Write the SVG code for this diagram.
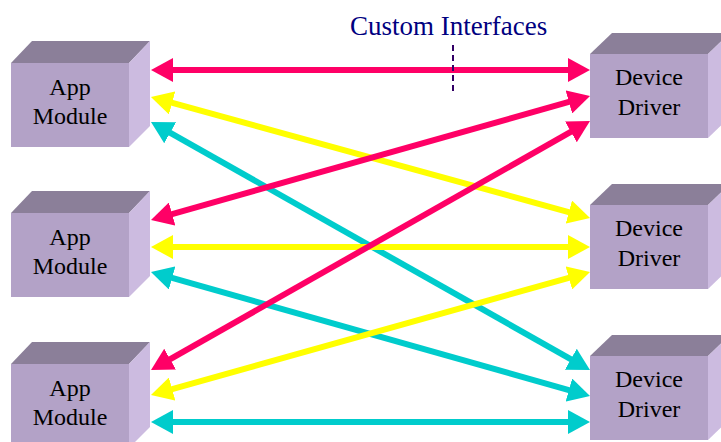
<svg xmlns="http://www.w3.org/2000/svg" width="721" height="442" viewBox="0 0 721 442">
<style>
.front{fill:#B3A2C7}
.top{fill:#8B7F99}
.side{fill:#CCBBE0}
.lbl{font-family:"Liberation Serif","Times New Roman",serif;font-size:24px;fill:#000;text-anchor:middle}
.ln{stroke-width:6;fill:none}
.pk{stroke:#FF0066;marker-start:url(#mp);marker-end:url(#mp)}
.yl{stroke:#FFFF00;marker-start:url(#my);marker-end:url(#my)}
.cy{stroke:#00CCCC;marker-start:url(#mc);marker-end:url(#mc)}
</style>
<defs>
<marker id="mp" markerUnits="userSpaceOnUse" viewBox="0 0 22 24" markerWidth="22" markerHeight="24" refX="12" refY="12" orient="auto-start-reverse"><path d="M0,0 L22,12 L0,24 z" fill="#FF0066"/></marker>
<marker id="my" markerUnits="userSpaceOnUse" viewBox="0 0 22 24" markerWidth="22" markerHeight="24" refX="12" refY="12" orient="auto-start-reverse"><path d="M0,0 L22,12 L0,24 z" fill="#FFFF00"/></marker>
<marker id="mc" markerUnits="userSpaceOnUse" viewBox="0 0 22 24" markerWidth="22" markerHeight="24" refX="12" refY="12" orient="auto-start-reverse"><path d="M0,0 L22,12 L0,24 z" fill="#00CCCC"/></marker>
</defs>
<rect width="721" height="442" fill="#fff"/>
<g id="app1">
<rect class="front" x="11" y="63" width="118" height="84"/>
<polygon class="top" points="11,63 32,41 150,41 129,63"/>
<polygon class="side" points="129,63 150,41 150,126 129,147"/>
<text class="lbl" x="70" y="95">App</text>
<text class="lbl" x="70" y="124">Module</text>
</g>
<g id="app2">
<rect class="front" x="11" y="213" width="118" height="84"/>
<polygon class="top" points="11,213 32,191 150,191 129,213"/>
<polygon class="side" points="129,213 150,191 150,276 129,297"/>
<text class="lbl" x="70" y="245">App</text>
<text class="lbl" x="70" y="274">Module</text>
</g>
<g id="app3">
<rect class="front" x="11" y="364" width="118" height="84"/>
<polygon class="top" points="11,364 32,342 150,342 129,364"/>
<polygon class="side" points="129,364 150,342 150,427 129,448"/>
<text class="lbl" x="70" y="396">App</text>
<text class="lbl" x="70" y="425">Module</text>
</g>
<g id="drv1">
<rect class="front" x="590" y="54" width="118" height="84"/>
<polygon class="top" points="590,54 612,33 730,33 708,54"/>
<polygon class="side" points="708,54 730,33 730,117 708,138"/>
<text class="lbl" x="649" y="85">Device</text>
<text class="lbl" x="649" y="115">Driver</text>
</g>
<g id="drv2">
<rect class="front" x="590" y="205" width="118" height="84"/>
<polygon class="top" points="590,205 612,184 730,184 708,205"/>
<polygon class="side" points="708,205 730,184 730,268 708,289"/>
<text class="lbl" x="649" y="236">Device</text>
<text class="lbl" x="649" y="266">Driver</text>
</g>
<g id="drv3">
<rect class="front" x="590" y="356" width="118" height="84"/>
<polygon class="top" points="590,356 612,335 730,335 708,356"/>
<polygon class="side" points="708,356 730,335 730,419 708,440"/>
<text class="lbl" x="649" y="387">Device</text>
<text class="lbl" x="649" y="417">Driver</text>
</g>
<g id="connectors">
<line class="ln pk" x1="161" y1="70" x2="580" y2="70"/>
<line class="ln yl" x1="160.6" y1="99.7" x2="580.4" y2="215.3"/>
<line class="ln cy" x1="159.7" y1="126.9" x2="581.3" y2="365.1"/>
<line class="ln pk" x1="160.6" y1="217.3" x2="580.4" y2="98.7"/>
<line class="ln yl" x1="161" y1="247" x2="580" y2="247"/>
<line class="ln cy" x1="160.6" y1="274.7" x2="580.4" y2="393.3"/>
<line class="ln pk" x1="159.7" y1="365.1" x2="581.3" y2="125.9"/>
<line class="ln yl" x1="160.6" y1="392.3" x2="580.4" y2="274.7"/>
<line class="ln cy" x1="161" y1="422" x2="580" y2="422"/>
</g>
<g id="label">
<line x1="453" y1="45" x2="453" y2="95" stroke="#330066" stroke-width="2" stroke-dasharray="6,4"/>
<text x="350" y="35" font-family="'Liberation Serif','Times New Roman',serif" font-size="27" fill="#000080">Custom Interfaces</text>
</g>
</svg>
